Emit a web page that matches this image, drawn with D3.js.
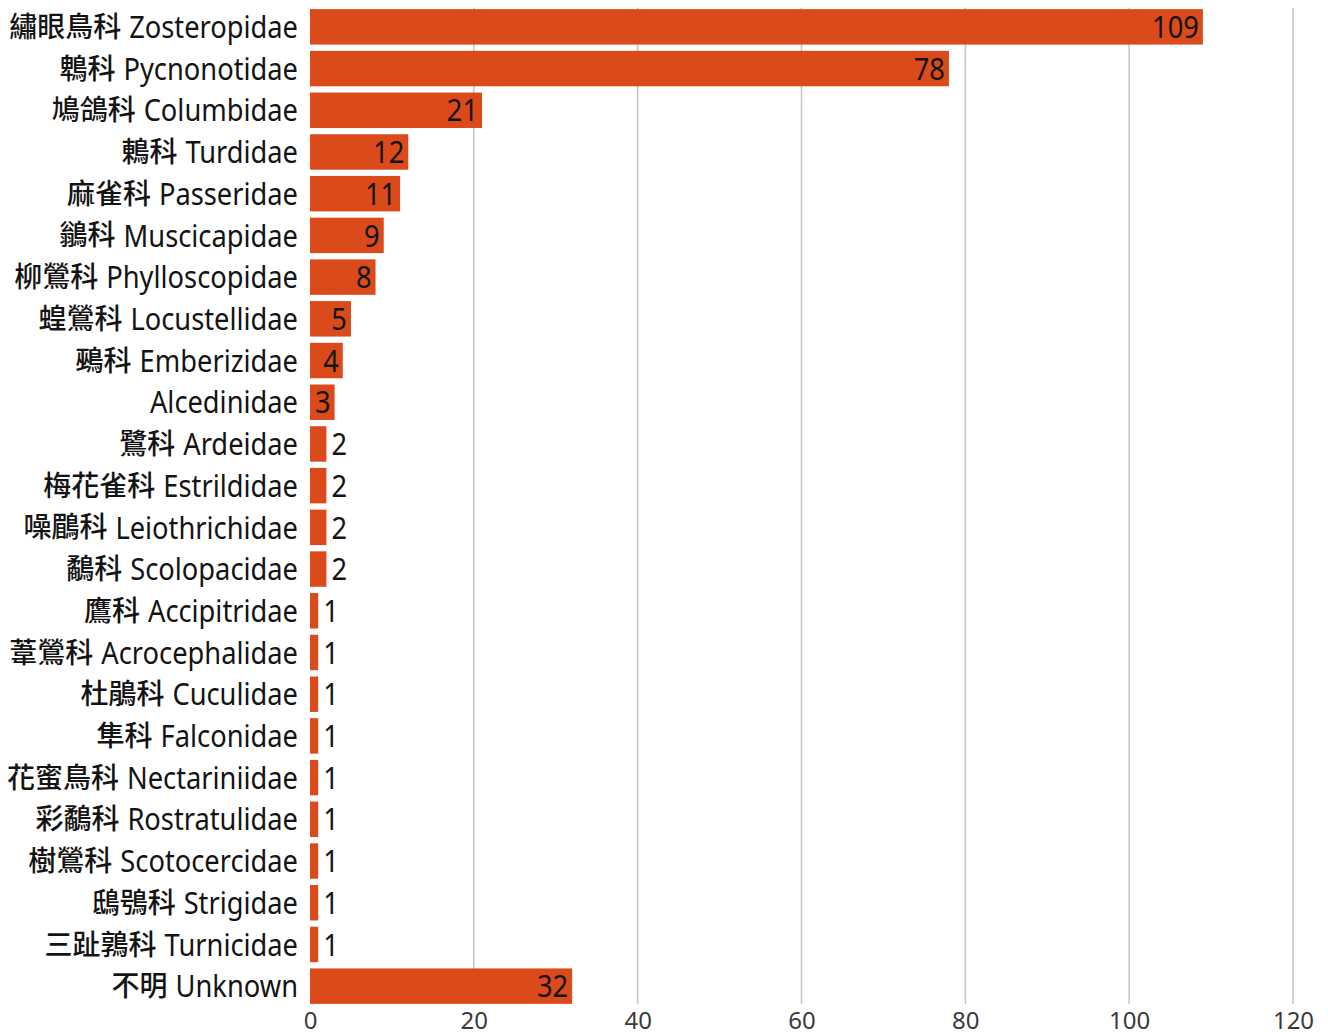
<!DOCTYPE html>
<html>
<head>
<meta charset="utf-8">
<script src="https://cdn.jsdelivr.net/npm/d3@7"></script>
<style>
  html, body { margin: 0; padding: 0; background: #fff; }
  svg { display: block; }
  .lat { font-family: "Noto Sans", "Open Sans", sans-serif; }
  .cjk { font-family: "Noto Sans CJK TC", "Noto Sans CJK SC", sans-serif; }
</style>
</head>
<body>
<svg id="chart" width="1328" height="1036"></svg>
<script>
// Bird families: Chinese name, Latin family name, number of records
const chineseNames = [
  "繡眼鳥科", "鵯科", "鳩鴿科", "鶇科", "麻雀科", "鶲科", "柳鶯科", "蝗鶯科",
  "鵐科", "", "鷺科", "梅花雀科", "噪鶥科", "鷸科", "鷹科", "葦鶯科",
  "杜鵑科", "隼科", "花蜜鳥科", "彩鷸科", "樹鶯科", "鴟鴞科", "三趾鶉科", "不明"
];
const latinNames = [
  "Zosteropidae", "Pycnonotidae", "Columbidae", "Turdidae", "Passeridae", "Muscicapidae",
  "Phylloscopidae", "Locustellidae", "Emberizidae", "Alcedinidae", "Ardeidae", "Estrildidae",
  "Leiothrichidae", "Scolopacidae", "Accipitridae", "Acrocephalidae", "Cuculidae", "Falconidae",
  "Nectariniidae", "Rostratulidae", "Scotocercidae", "Strigidae", "Turnicidae", "Unknown"
];
const counts = [109, 78, 21, 12, 11, 9, 8, 5, 4, 3, 2, 2, 2, 2, 1, 1, 1, 1, 1, 1, 1, 1, 1, 32];
const xTicks = [0, 20, 40, 60, 80, 100, 120];

const data = latinNames.map((l, i) => ({ key: l, zh: chineseNames[i], la: l, value: counts[i] }));

const svg = d3.select("#chart");
const SX = 0.88;          // horizontal squeeze for the narrow Latin lettering

const x = d3.scaleLinear().domain([0, 120]).range([310, 1293]);
const y = d3.scaleBand().domain(latinNames).range([6, 1007])
  .paddingInner(0.15).paddingOuter(0.075);

// vertical gridlines
svg.append("g").selectAll("line").data(xTicks.filter(t => t > 0)).join("line")
  .attr("x1", d => x(d)).attr("x2", d => x(d))
  .attr("y1", 8).attr("y2", 1004)
  .attr("stroke", "#c4c4c4").attr("stroke-width", 1.5);

// x-axis tick labels
const xAxis = d3.axisBottom(x).tickValues(xTicks).tickSize(0).tickPadding(0);
const gx = svg.append("g").attr("transform", "translate(0,1029)").call(xAxis);
gx.select(".domain").remove();
gx.selectAll("text")
  .attr("class", "lat")
  .attr("font-size", 24).attr("fill", "#3a3a3a").attr("dy", 0).attr("y", 0);

// bars
svg.append("g").selectAll("rect").data(data).join("rect")
  .attr("x", x(0)).attr("y", d => y(d.key))
  .attr("width", d => x(d.value) - x(0)).attr("height", y.bandwidth())
  .attr("fill", "#db4a1b");

// category labels: Latin part squeezed, Chinese part to its left
const rows = svg.append("g").selectAll("g").data(data).join("g")
  .attr("transform", d => `translate(298,${y(d.key) + y.bandwidth() / 2})`);

rows.append("text")
  .attr("class", "lat")
  .attr("transform", `scale(${SX},1)`)
  .attr("text-anchor", "end").attr("dy", "0.36em")
  .attr("font-size", 31).attr("fill", "#141414")
  .text(d => d.la);

rows.each(function (d) {
  if (!d.zh) return;
  const g = d3.select(this);
  const w = g.select("text").node().getComputedTextLength() * SX;
  g.append("text")
    .attr("class", "cjk")
    .attr("x", -(w + 8))
    .attr("text-anchor", "end").attr("dy", "0.36em")
    .attr("font-size", 28).attr("font-weight", 500).attr("fill", "#141414")
    .text(d.zh);
});

// value labels: inside the bar end when there is room, otherwise just outside
svg.append("g").selectAll("g").data(data).join("g")
  .attr("transform", d => {
    const inside = d.value >= 3;
    const px = inside ? x(d.value) - 4 : x(d.value) + 5;
    return `translate(${px},${y(d.key) + y.bandwidth() / 2})`;
  })
  .append("text")
  .attr("class", "lat")
  .attr("transform", `scale(${SX},1)`)
  .attr("dy", "0.36em")
  .attr("text-anchor", d => d.value >= 3 ? "end" : "start")
  .attr("font-size", 31).attr("fill", "#141414")
  .text(d => d.value);
</script>
</body>
</html>
